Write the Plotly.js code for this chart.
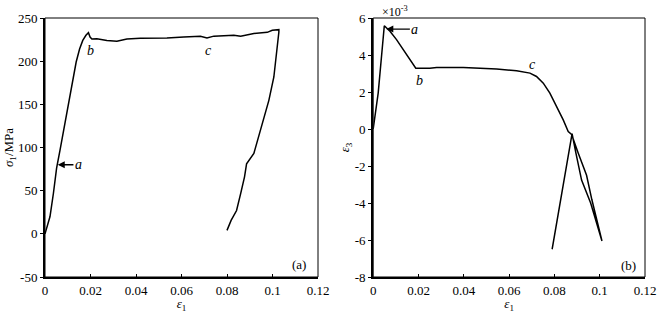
<!DOCTYPE html>
<html>
<head>
<meta charset="utf-8">
<script src="https://cdn.plot.ly/plotly-3.0.1.min.js"></script>
<style>html,body{margin:0;padding:0;background:#fff;}#chart{width:666px;height:313px;}</style>
</head>
<body>
<div id="chart"></div>
<script>
// Panel (a): axial stress sigma1 (MPa) vs axial strain epsilon1
const epsA = [0, 0.0008, 0.0022, 0.0037, 0.0051, 0.0066, 0.0085, 0.0103, 0.0120, 0.0137, 0.0152, 0.0166, 0.0180, 0.0191,
  0.0198, 0.0206, 0.0228, 0.0272, 0.0316, 0.0360, 0.0419, 0.0536, 0.0610, 0.0683, 0.0712, 0.0742, 0.0830, 0.0860, 0.0918, 0.0977, 0.0999, 0.1020, 0.1028,
  0.1028, 0.1020, 0.1006, 0.0984, 0.0962, 0.0933, 0.0918, 0.0886, 0.0877, 0.0860, 0.0842, 0.0818, 0.0800];
const sigA = [0, 8, 20, 47, 76, 97, 124, 148, 174, 199, 214, 224, 230, 233,
  228, 225.7, 226, 224, 223, 225.7, 226.4, 226.8, 228, 228.8, 226.8, 229, 230, 228.8, 232, 233.4, 235.7, 236.5, 236.5,
  233.8, 212.5, 181.7, 154.6, 135, 108, 93, 81, 66, 46.5, 27, 15.6, 4];

// Panel (b): lateral strain epsilon3 (x10^-3) vs axial strain epsilon1
const epsB = [0, 0.0022, 0.0049, 0.0074, 0.0103, 0.0133, 0.0162, 0.0188, 0.0250, 0.0280, 0.0398, 0.0486, 0.0545, 0.0633, 0.0692, 0.0721, 0.0751, 0.0780, 0.0810, 0.0839, 0.0861, 0.0876,
  0.0905, 0.0942, 0.0965, 0.1010, 0.0960, 0.0920, 0.0895, 0.0878, 0.0790];
const eps3B = [0, 1.94, 5.58, 5.28, 4.83, 4.28, 3.74, 3.29, 3.29, 3.33, 3.33, 3.29, 3.24, 3.15, 3.02, 2.84, 2.48, 1.94, 1.21, 0.49, -0.14, -0.3,
  -1.3, -2.5, -3.8, -6.05, -4.0, -2.76, -1.3, -0.25, -6.5];

const xTicks = [0, 0.02, 0.04, 0.06, 0.08, 0.1, 0.12];
const xTickText = ['0', '0.02', '0.04', '0.06', '0.08', '0.1', '0.12'];
const yTicksA = [-50, 0, 50, 100, 150, 200, 250];
const yTickTextA = ['-50', '0', '50', '100', '150', '200', '250'];
const yTicksB = [-8, -6, -4, -2, 0, 2, 4, 6];
const yTickTextB = ['-8', '-6', '-4', '-2', '0', '2', '4', '6'];

const serif = '"Liberation Serif", "DejaVu Serif", serif';
const lineStyle = {color: '#000', width: 1.5};

const traces = [
  {x: epsA, y: sigA, type: 'scatter', mode: 'lines', line: lineStyle, xaxis: 'x', yaxis: 'y', hoverinfo: 'skip'},
  {x: epsB, y: eps3B, type: 'scatter', mode: 'lines', line: lineStyle, xaxis: 'x2', yaxis: 'y2', hoverinfo: 'skip'}
];

function xax(domain, anchor) {
  return {domain: domain, anchor: anchor, range: [0, 0.12], tickvals: xTicks, ticktext: xTickText,
    ticks: 'inside', ticklen: 3, tickcolor: '#000', showline: true, linecolor: '#000', linewidth: 2,
    showgrid: false, zeroline: false, tickfont: {family: serif, size: 13, color: '#000'},
    title: {text: '<i>ε</i><sub>1</sub>', font: {family: serif, size: 13, color: '#000'}, standoff: 2}};
}
function yax(domain, anchor, range, vals, text, title, standoff) {
  return {domain: domain, anchor: anchor, range: range, tickvals: vals, ticktext: text,
    ticks: 'outside', ticklen: 3, tickcolor: '#000', showline: true, linecolor: '#000', linewidth: 2,
    showgrid: false, zeroline: false, tickfont: {family: serif, size: 13, color: '#000'},
    title: {text: title, font: {family: serif, size: 13, color: '#000'}, standoff: standoff}};
}

const layout = {
  width: 666, height: 313,
  margin: {l: 45, r: 21, t: 18, b: 36},
  paper_bgcolor: '#fff', plot_bgcolor: '#fff',
  showlegend: false,
  font: {family: serif, color: '#000'},
  xaxis: xax([0, 0.455], 'y'),
  yaxis: yax([0, 1], 'x', [-50, 250], yTicksA, yTickTextA, '<i>σ</i><sub>1</sub>/MPa', 0),
  xaxis2: xax([0.547, 1], 'y2'),
  yaxis2: yax([0, 1], 'x2', [-8, 6], yTicksB, yTickTextB, '<i>ε</i><sub>3</sub>', 2),
  shapes: [
    {type: 'rect', xref: 'x domain', yref: 'y domain', x0: 0, x1: 1, y0: 0, y1: 1, line: {color: '#000', width: 1}},
    {type: 'rect', xref: 'x2 domain', yref: 'y2 domain', x0: 0, x1: 1, y0: 0, y1: 1, line: {color: '#000', width: 1}}
  ],
  annotations: [
    // panel (a)
    {xref: 'x', yref: 'y', x: 0.0056, y: 80, ax: 0.0147, ay: 80, axref: 'x', ayref: 'y', text: '<i>a</i>', showarrow: true, arrowhead: 2, arrowsize: 1, arrowwidth: 1.4, arrowcolor: '#000', font: {family: serif, size: 14, color: '#000'}},
    {xref: 'x', yref: 'y', x: 0.0201, y: 212, text: '<i>b</i>', showarrow: false, font: {family: serif, size: 14, color: '#000'}},
    {xref: 'x', yref: 'y', x: 0.0720, y: 212, text: '<i>c</i>', showarrow: false, font: {family: serif, size: 14, color: '#000'}},
    {xref: 'x', yref: 'y', x: 0.1116, y: -36, text: '(a)', showarrow: false, font: {family: serif, size: 13, color: '#000'}},
    // panel (b)
    {xref: 'x2', yref: 'y2', x: 0.0058, y: 5.4, ax: 0.0184, ay: 5.4, axref: 'x2', ayref: 'y2', text: '<i>a</i>', showarrow: true, arrowhead: 2, arrowsize: 1, arrowwidth: 1.4, arrowcolor: '#000', font: {family: serif, size: 14, color: '#000'}},
    {xref: 'x2', yref: 'y2', x: 0.0203, y: 2.62, text: '<i>b</i>', showarrow: false, font: {family: serif, size: 14, color: '#000'}},
    {xref: 'x2', yref: 'y2', x: 0.0702, y: 3.47, text: '<i>c</i>', showarrow: false, font: {family: serif, size: 14, color: '#000'}},
    {xref: 'x2', yref: 'y2', x: 0.1127, y: -7.37, text: '(b)', showarrow: false, font: {family: serif, size: 13, color: '#000'}},
    {xref: 'paper', yref: 'paper', x: 0.558, y: 0.99, xanchor: 'left', yanchor: 'bottom', text: '×10<sup>-3</sup>', showarrow: false, font: {family: serif, size: 12, color: '#000'}}
  ]
};

Plotly.newPlot('chart', traces, layout, {staticPlot: true, displayModeBar: false});
</script>
</body>
</html>
